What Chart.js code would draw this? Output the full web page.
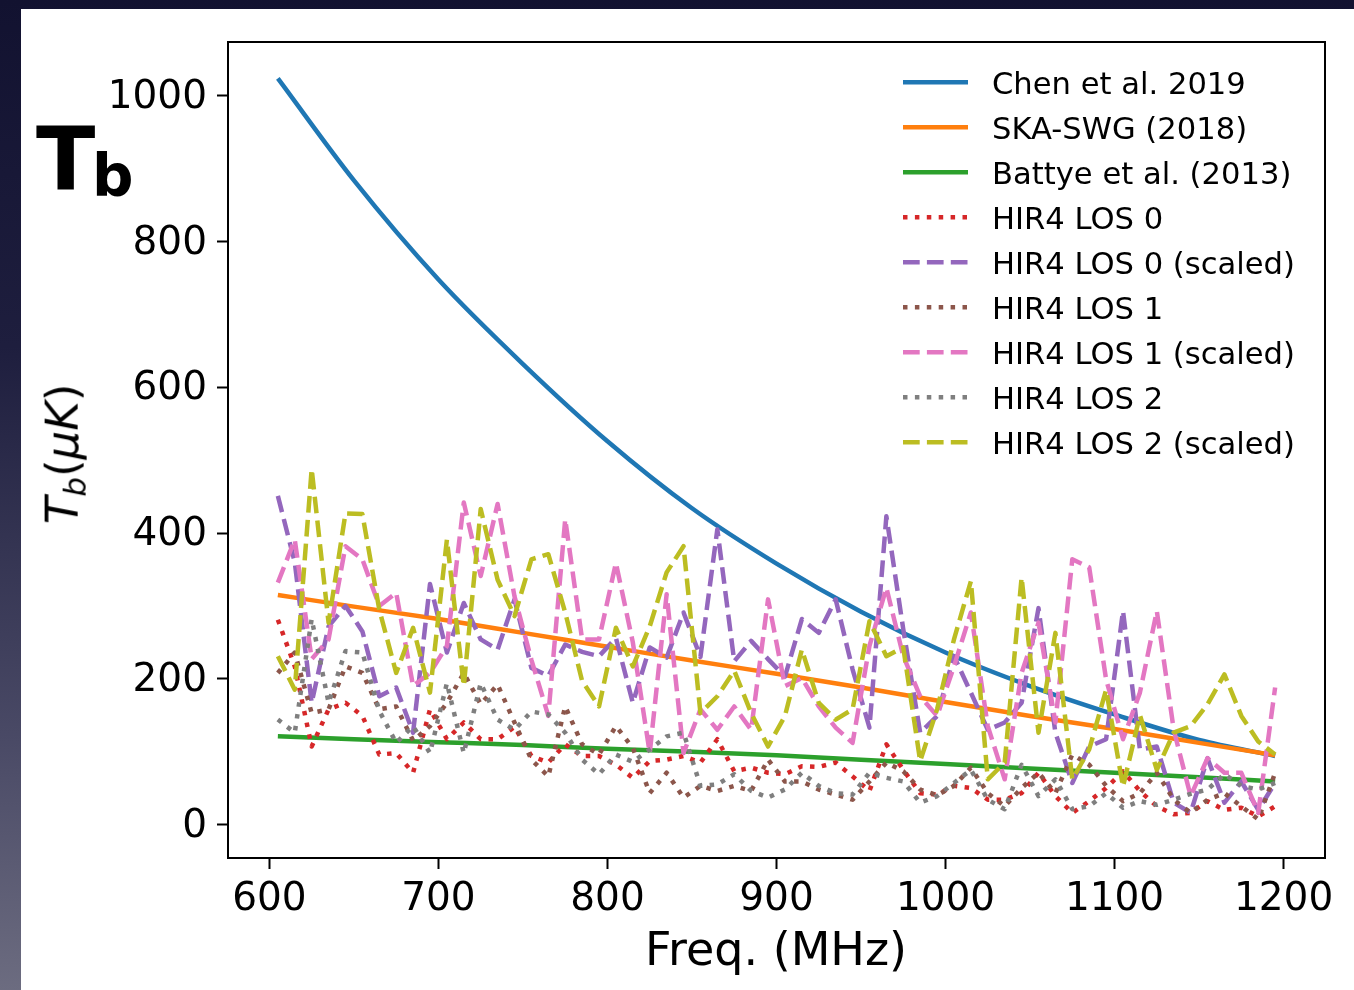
<!DOCTYPE html>
<html>
<head>
<meta charset="utf-8">
<title>Tb</title>
<script src="https://cdn.jsdelivr.net/npm/chart.js@4.4.0/dist/chart.umd.min.js"></script>
<style>
  html, body { margin: 0; padding: 0; }
  body {
    width: 1354px; height: 990px; overflow: hidden; position: relative;
    background: linear-gradient(to bottom, #121230 0%, #1e1e3e 35%, #4a4a66 75%, #6c6c80 100%);
    font-family: "DejaVu Sans", sans-serif; color: #000;
  }
  #panel { position: absolute; left: 21px; top: 9px; right: 0; bottom: 0; background: #fff; }
  #chart { position: absolute; left: 0; top: 0; }
  .lbl { position: absolute; white-space: nowrap; line-height: 1; }
  #tbT { left: 36px; top: 116px; font-size: 87px; font-weight: bold; }
  #tbB { left: 92px; top: 147px; font-size: 58px; font-weight: bold; }
  #ylab { left: 65px; top: 454px; font-size: 45px; transform: translate(-50%, -50%) rotate(-90deg); }
  #ylab sub { font-size: 31px; font-style: italic; vertical-align: -0.25em; }
  #xlab { left: 776px; top: 926px; font-size: 46px; transform: translateX(-50%); }
</style>
</head>
<body>
<div id="panel"></div>
<canvas id="chart" width="1354" height="990"></canvas>
<div class="lbl" id="tbT">T</div>
<div class="lbl" id="tbB">b</div>
<div class="lbl" id="ylab"><i>T</i><sub>b</sub>(<i>μK</i>)</div>
<div class="lbl" id="xlab">Freq. (MHz)</div>
<script>
// --- DATA ---
const freqs = [605, 615, 625, 635, 645, 655, 665, 675, 685, 695,
               705, 715, 725, 735, 745, 755, 765, 775, 785, 795,
               805, 815, 825, 835, 845, 855, 865, 875, 885, 895,
               905, 915, 925, 935, 945, 955, 965, 975, 985, 995,
               1005, 1015, 1025, 1035, 1045, 1055, 1065, 1075, 1085, 1095,
               1105, 1115, 1125, 1135, 1145, 1155, 1165, 1175, 1185, 1195];

const modelFreqs = [605, 650, 700, 750, 800, 850, 900, 950, 1000, 1050, 1100, 1150, 1195];
const chen2019 = [1024, 884, 748, 632, 526, 434, 358, 292, 236, 190, 151, 116, 94];
const skaSwg2018 = [315, 299, 282, 263, 244, 225, 207, 188, 168, 149, 131, 112, 95];
const battye2013 = [121, 117, 113, 109, 104, 100, 95, 89, 83, 77, 71, 65, 59];

const los0 = [281, 217, 107, 158, 167, 149, 96, 98, 71, 158,
              117, 140, 117, 117, 134, 94, 85, 110, 94, 94,
              82, 64, 87, 89, 94, 85, 117, 73, 78, 71,
              69, 80, 79, 85, 66, 46, 110, 75, 43, 41,
              53, 50, 34, 34, 43, 71, 39, 16, 32, 50,
              73, 46, 25, 14, 16, 32, 20, 23, 11, 25];
const los0Scaled = [451, 360, 167, 272, 300, 265, 176, 188, 126, 330,
                    236, 304, 254, 240, 309, 215, 204, 247, 237, 231,
                    256, 167, 243, 229, 291, 230, 405, 224, 252, 227,
                    203, 282, 263, 309, 213, 133, 423, 268, 126, 149,
                    231, 181, 130, 140, 167, 297, 126, 57, 107, 117,
                    293, 103, 107, 30, 16, 91, 30, 59, 20, 57];
const los1 = [208, 236, 153, 158, 217, 208, 158, 162, 115, 135,
              167, 208, 165, 192, 140, 89, 66, 162, 110, 96,
              135, 105, 43, 71, 37, 53, 46, 53, 46, 89,
              59, 59, 48, 41, 34, 59, 85, 73, 48, 40,
              53, 78, 43, 25, 50, 71, 43, 96, 82, 53,
              32, 43, 71, 34, 16, 34, 43, 25, 7, 71];
const los1Scaled = [332, 391, 227, 254, 382, 364, 300, 318, 190, 208,
                    245, 442, 341, 440, 313, 226, 149, 419, 254, 254,
                    359, 250, 98, 316, 98, 158, 130, 162, 130, 309,
                    190, 201, 162, 133, 112, 245, 325, 231, 176, 149,
                    217, 291, 135, 62, 208, 277, 140, 364, 353, 199,
                    117, 181, 293, 130, 39, 91, 71, 71, 16, 188];
const los2 = [144, 126, 282, 167, 238, 236, 156, 112, 135, 98,
              194, 98, 194, 144, 130, 155, 151, 126, 89, 69,
              96, 86, 103, 121, 126, 53, 55, 69, 46, 37,
              48, 71, 53, 43, 41, 71, 64, 59, 30, 39,
              57, 75, 34, 21, 82, 39, 62, 21, 25, 43,
              23, 32, 27, 34, 42, 48, 69, 53, 48, 57];
const los2Scaled = [231, 185, 488, 277, 427, 426, 295, 208, 270, 181,
                    391, 190, 433, 336, 286, 364, 371, 291, 197, 162,
                    270, 217, 272, 346, 382, 153, 176, 211, 153, 107,
                    149, 240, 167, 144, 158, 279, 231, 243, 87, 158,
                    254, 334, 62, 85, 339, 126, 263, 62, 103, 185,
                    52, 150, 75, 126, 135, 165, 206, 149, 114, 96];

const xTicks = [600, 700, 800, 900, 1000, 1100, 1200];
const yTicks = [0, 200, 400, 600, 800, 1000];

// --- STYLE ---
const LW = 4.5;
const DASH = [16.7, 7.2];
const DOT = [4.5, 7.4];

const pts = (xs, ys) => xs.map((x, i) => ({ x: x, y: ys[i] }));

const series = [
  { label: 'Chen et al. 2019', xs: modelFreqs, ys: chen2019, color: '#1f77b4', dash: [], smooth: true },
  { label: 'SKA-SWG (2018)', xs: modelFreqs, ys: skaSwg2018, color: '#ff7f0e', dash: [], smooth: true },
  { label: 'Battye et al. (2013)', xs: modelFreqs, ys: battye2013, color: '#2ca02c', dash: [], smooth: true },
  { label: 'HIR4 LOS 0', xs: freqs, ys: los0, color: '#d62728', dash: DOT },
  { label: 'HIR4 LOS 0 (scaled)', xs: freqs, ys: los0Scaled, color: '#9467bd', dash: DASH },
  { label: 'HIR4 LOS 1', xs: freqs, ys: los1, color: '#8c564b', dash: DOT },
  { label: 'HIR4 LOS 1 (scaled)', xs: freqs, ys: los1Scaled, color: '#e377c2', dash: DASH },
  { label: 'HIR4 LOS 2', xs: freqs, ys: los2, color: '#7f7f7f', dash: DOT },
  { label: 'HIR4 LOS 2 (scaled)', xs: freqs, ys: los2Scaled, color: '#bcbd22', dash: DASH }
];

const datasets = series.map((s, i) => ({
  label: s.label,
  data: pts(s.xs, s.ys),
  borderColor: s.color,
  borderWidth: LW,
  borderDash: s.dash,
  borderCapStyle: 'butt',
  borderJoinStyle: 'round',
  pointRadius: 0,
  fill: false,
  tension: 0,
  cubicInterpolationMode: s.smooth ? 'monotone' : 'default',
  order: series.length - i
}));

// --- PLUGINS ---
const frameBox = {
  id: 'frameBox',
  afterDatasetsDraw(chart) {
    const a = chart.chartArea, ctx = chart.ctx;
    ctx.save();
    ctx.strokeStyle = '#000';
    ctx.lineWidth = 2;
    ctx.setLineDash([]);
    ctx.strokeRect(a.left, a.top, a.right - a.left, a.bottom - a.top);
    ctx.restore();
  }
};

const lineLegend = {
  id: 'lineLegend',
  afterDraw(chart) {
    const ctx = chart.ctx;
    ctx.save();
    ctx.font = '30.6px "DejaVu Sans"';
    ctx.textBaseline = 'alphabetic';
    ctx.textAlign = 'left';
    chart.data.datasets.forEach((ds, i) => {
      const y = 82.3 + i * 45;
      ctx.beginPath();
      ctx.strokeStyle = ds.borderColor;
      ctx.lineWidth = ds.borderWidth;
      ctx.lineCap = 'butt';
      ctx.setLineDash(ds.borderDash);
      ctx.moveTo(903, y);
      ctx.lineTo(968, y);
      ctx.stroke();
      ctx.setLineDash([]);
      ctx.fillStyle = '#000';
      ctx.fillText(ds.label, 992, y + 11.3);
    });
    ctx.restore();
  }
};

const tickFont = { family: '"DejaVu Sans"', size: 39, lineHeight: 1.2 };

new Chart(document.getElementById('chart'), {
  type: 'line',
  data: { datasets: datasets },
  options: {
    responsive: false,
    devicePixelRatio: 1,
    animation: false,
    layout: { padding: { left: 0, top: 42, right: 29, bottom: 0 } },
    plugins: { legend: { display: false }, tooltip: { enabled: false } },
    scales: {
      x: {
        type: 'linear',
        position: 'bottom',
        min: 575.5,
        max: 1224.5,
        afterBuildTicks: (scale) => { scale.ticks = xTicks.map(v => ({ value: v })); },
        afterFit: (scale) => { scale.height = 132; },
        ticks: { font: tickFont, color: '#000', padding: 7, maxRotation: 0, autoSkip: false, callback: v => String(v) },
        grid: { drawOnChartArea: false, drawTicks: true, tickLength: 11, tickWidth: 2, tickColor: '#000' },
        border: { display: false }
      },
      y: {
        type: 'linear',
        position: 'left',
        min: -46,
        max: 1074,
        afterBuildTicks: (scale) => { scale.ticks = yTicks.map(v => ({ value: v })); },
        afterFit: (scale) => { scale.width = 228; },
        ticks: { font: tickFont, color: '#000', padding: 10, labelOffset: 2, autoSkip: false, callback: v => String(v) },
        grid: { drawOnChartArea: false, drawTicks: true, tickLength: 11, tickWidth: 2, tickColor: '#000' },
        border: { display: false }
      }
    }
  },
  plugins: [frameBox, lineLegend]
});
</script>
</body>
</html>
